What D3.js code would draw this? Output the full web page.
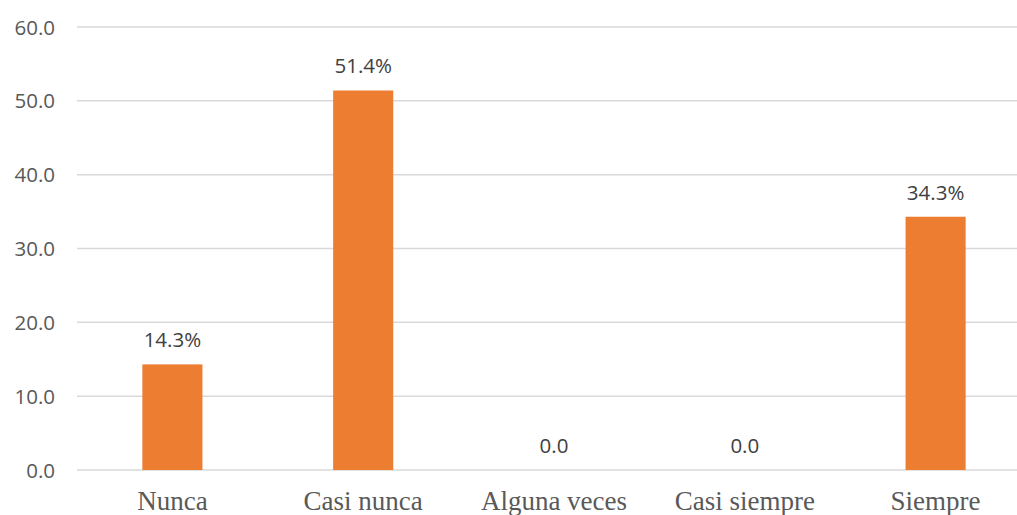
<!DOCTYPE html>
<html>
<head>
<meta charset="utf-8">
<script src="https://cdn.jsdelivr.net/npm/d3@7"></script>
<style>
html,body{margin:0;padding:0;background:#fff;}
svg{display:block;}
</style>
</head>
<body>
<svg id="chart" width="1017" height="515"></svg>
<script>
const categories = ["Nunca", "Casi nunca", "Alguna veces", "Casi siempre", "Siempre"];
const values = [14.3, 51.4, 0.0, 0.0, 34.3];
const valueLabels = ["14.3%", "51.4%", "0.0", "0.0", "34.3%"];
const yTicks = [0, 10, 20, 30, 40, 50, 60];

const svg = d3.select("#chart");
const plotLeft = 77, plotRight = 1031, plotTop = 27, plotBottom = 470;

const x = d3.scaleBand().domain(categories).range([plotLeft, plotRight]).padding(0);
const y = d3.scaleLinear().domain([0, 60]).range([plotBottom, plotTop]);
const barW = x.bandwidth() * 0.315;

// gridlines
svg.append("g").selectAll("line").data(yTicks).join("line")
  .attr("x1", plotLeft).attr("x2", plotRight)
  .attr("y1", d => y(d)).attr("y2", d => y(d))
  .attr("stroke", "#d9d9d9").attr("stroke-width", 1.5);

// y tick labels
svg.append("g").selectAll("text").data(yTicks).join("text")
  .attr("x", 55).attr("y", d => y(d) + 7.5)
  .attr("text-anchor", "end")
  .attr("font-family", "'Open Sans', sans-serif")
  .attr("font-size", 20.5)
  .attr("fill", "#595959")
  .text(d => d.toFixed(1));

// bars
svg.append("g").selectAll("rect").data(values).join("rect")
  .attr("x", (d, i) => x(categories[i]) + x.bandwidth() / 2 - barW / 2)
  .attr("width", barW)
  .attr("y", d => y(d))
  .attr("height", d => y(0) - y(d))
  .attr("fill", "#ED7D31");

// data labels
svg.append("g").selectAll("text").data(values).join("text")
  .attr("x", (d, i) => x(categories[i]) + x.bandwidth() / 2)
  .attr("y", d => y(d) - 17)
  .attr("text-anchor", "middle")
  .attr("font-family", "'Open Sans', sans-serif")
  .attr("font-size", 20.5)
  .attr("fill", "#404040")
  .text((d, i) => valueLabels[i]);

// category labels
svg.append("g").selectAll("text").data(categories).join("text")
  .attr("x", d => x(d) + x.bandwidth() / 2)
  .attr("y", 510)
  .attr("text-anchor", "middle")
  .attr("font-family", "'Liberation Serif', 'Times New Roman', serif")
  .attr("font-size", 27)
  .attr("fill", "#595959")
  .text(d => d);
</script>
</body>
</html>
